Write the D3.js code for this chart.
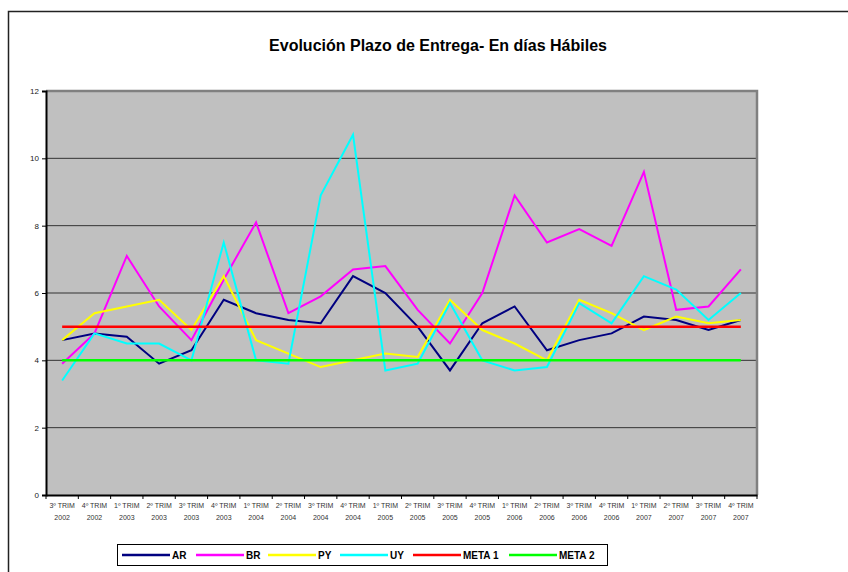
<!DOCTYPE html>
<html>
<head>
<meta charset="utf-8">
<script src="https://cdn.jsdelivr.net/npm/d3@7"></script>
<style>
  html, body { margin: 0; padding: 0; background: #fff; }
  svg { display: block; font-family: "Liberation Sans", Arial, sans-serif; }
</style>
</head>
<body>
<svg id="chart" width="848" height="572"></svg>
<script>
// Quarters (two-line tick labels)
const quarters = ["3º TRIM", "4º TRIM", "1º TRIM", "2º TRIM", "3º TRIM", "4º TRIM",
                  "1º TRIM", "2º TRIM", "3º TRIM", "4º TRIM", "1º TRIM", "2º TRIM",
                  "3º TRIM", "4º TRIM", "1º TRIM", "2º TRIM", "3º TRIM", "4º TRIM",
                  "1º TRIM", "2º TRIM", "3º TRIM", "4º TRIM"];
const years = ["2002", "2002", "2003", "2003", "2003", "2003",
               "2004", "2004", "2004", "2004", "2005", "2005",
               "2005", "2005", "2006", "2006", "2006", "2006",
               "2007", "2007", "2007", "2007"];

// Delivery time in working days, per country
const AR = [4.6, 4.8, 4.7, 3.9, 4.3, 5.8, 5.4, 5.2, 5.1, 6.5, 6.0, 5.0,
            3.7, 5.1, 5.6, 4.3, 4.6, 4.8, 5.3, 5.2, 4.9, 5.2];
const BR = [3.9, 4.8, 7.1, 5.6, 4.6, 6.4, 8.1, 5.4, 5.9, 6.7, 6.8, 5.5,
            4.5, 6.0, 8.9, 7.5, 7.9, 7.4, 9.6, 5.5, 5.6, 6.7];
const PY = [4.6, 5.4, 5.6, 5.8, 4.9, 6.5, 4.6, 4.2, 3.8, 4.0, 4.2, 4.1,
            5.8, 4.9, 4.5, 4.0, 5.8, 5.4, 4.9, 5.3, 5.1, 5.2];
const UY = [3.4, 4.8, 4.5, 4.5, 4.0, 7.5, 4.0, 3.9, 8.9, 10.7, 3.7, 3.9,
            5.7, 4.0, 3.7, 3.8, 5.7, 5.1, 6.5, 6.1, 5.2, 6.0];
// Target levels
const META1 = quarters.map(() => 5);
const META2 = quarters.map(() => 4);

const yTicks = [0, 2, 4, 6, 8, 10, 12];

const series = [
  { name: "AR", values: AR, color: "#000080", width: 2 },
  { name: "BR", values: BR, color: "#FF00FF", width: 2 },
  { name: "PY", values: PY, color: "#FFFF00", width: 2 },
  { name: "UY", values: UY, color: "#00FFFF", width: 2 },
  { name: "META 1", values: META1, color: "#FF0000", width: 2.5 },
  { name: "META 2", values: META2, color: "#00FF00", width: 2.5 }
];

const svg = d3.select("#chart");
const plot = { left: 46, right: 757, top: 91, bottom: 495 };

// Outer frame of the chart area (runs past the right and bottom edges)
svg.append("rect")
  .attr("x", 8.5).attr("y", 11.5)
  .attr("width", 900).attr("height", 700)
  .attr("fill", "none").attr("stroke", "#222").attr("stroke-width", 1.5);

// Title
svg.append("text")
  .attr("x", 438).attr("y", 51)
  .attr("text-anchor", "middle")
  .attr("font-size", 16).attr("font-weight", "bold")
  .attr("fill", "#000")
  .text("Evolución Plazo de Entrega- En días Hábiles");

const x = d3.scaleBand()
  .domain(d3.range(quarters.length))
  .range([plot.left, plot.right]);

const y = d3.scaleLinear()
  .domain([0, 12])
  .range([plot.bottom, plot.top]);

// Plot background
svg.append("rect")
  .attr("x", plot.left).attr("y", plot.top)
  .attr("width", plot.right - plot.left).attr("height", plot.bottom - plot.top)
  .attr("fill", "#C0C0C0");

// Horizontal gridlines
svg.append("g")
  .selectAll("line")
  .data(yTicks.filter(t => t > 0 && t < 12))
  .join("line")
  .attr("x1", plot.left).attr("x2", plot.right)
  .attr("y1", d => y(d)).attr("y2", d => y(d))
  .attr("stroke", "#333").attr("stroke-width", 1);

// Top and right borders of the plot area
svg.append("path")
  .attr("d", `M${plot.left},${plot.top}H${plot.right}V${plot.bottom}`)
  .attr("fill", "none").attr("stroke", "#808080").attr("stroke-width", 2.5);

// Y axis
const yAxis = svg.append("g")
  .attr("transform", `translate(${plot.left},0)`)
  .call(d3.axisLeft(y).tickValues(yTicks).tickSize(4).tickPadding(3));
yAxis.select(".domain").attr("stroke", "#000").attr("stroke-width", 2);
yAxis.selectAll(".tick line").attr("stroke", "#000");
yAxis.selectAll(".tick text")
  .attr("font-size", 8).attr("fill", "#222")
  .attr("font-family", "'Liberation Sans', Arial, sans-serif");

// X axis: ticks at category boundaries, labels drawn separately
const xAxis = svg.append("g")
  .attr("transform", `translate(0,${plot.bottom})`)
  .call(d3.axisBottom(x).tickValues([]).tickSizeOuter(0));
xAxis.select(".domain").attr("stroke", "#000").attr("stroke-width", 2);
xAxis.append("g")
  .selectAll("line")
  .data(d3.range(quarters.length + 1))
  .join("line")
  .attr("x1", i => plot.left + i * x.step())
  .attr("x2", i => plot.left + i * x.step())
  .attr("y1", 0).attr("y2", 4)
  .attr("stroke", "#000");

const xLabels = svg.append("g")
  .selectAll("text")
  .data(d3.range(quarters.length))
  .join("text")
  .attr("x", i => x(i) + x.bandwidth() / 2)
  .attr("text-anchor", "middle")
  .attr("font-size", 7).attr("fill", "#333");
xLabels.append("tspan").attr("y", 508).text(i => quarters[i]);
xLabels.append("tspan")
  .attr("x", i => x(i) + x.bandwidth() / 2)
  .attr("y", 520).text(i => years[i]);

// Series lines
const line = d3.line()
  .x((d, i) => x(i) + x.bandwidth() / 2)
  .y(d => y(d));

svg.append("g")
  .selectAll("path")
  .data(series)
  .join("path")
  .attr("d", s => line(s.values))
  .attr("fill", "none")
  .attr("stroke", s => s.color)
  .attr("stroke-width", s => s.width)
  .attr("stroke-linejoin", "miter");

// Legend
const legend = svg.append("g");
legend.append("rect")
  .attr("x", 117.5).attr("y", 544.5)
  .attr("width", 490).attr("height", 21)
  .attr("fill", "#fff").attr("stroke", "#000").attr("stroke-width", 1);

const legendX = [122, 196, 268, 340, 413, 509];
const items = legend.selectAll("g.item")
  .data(series)
  .join("g")
  .attr("class", "item")
  .attr("transform", (s, i) => `translate(${legendX[i]},555)`);
items.append("line")
  .attr("x1", 0).attr("x2", 48)
  .attr("stroke", s => s.color).attr("stroke-width", 2.5);
items.append("text")
  .attr("x", 50).attr("y", 3.5)
  .attr("font-size", 10).attr("font-weight", "bold")
  .attr("fill", "#000")
  .text(s => s.name);
</script>
</body>
</html>
